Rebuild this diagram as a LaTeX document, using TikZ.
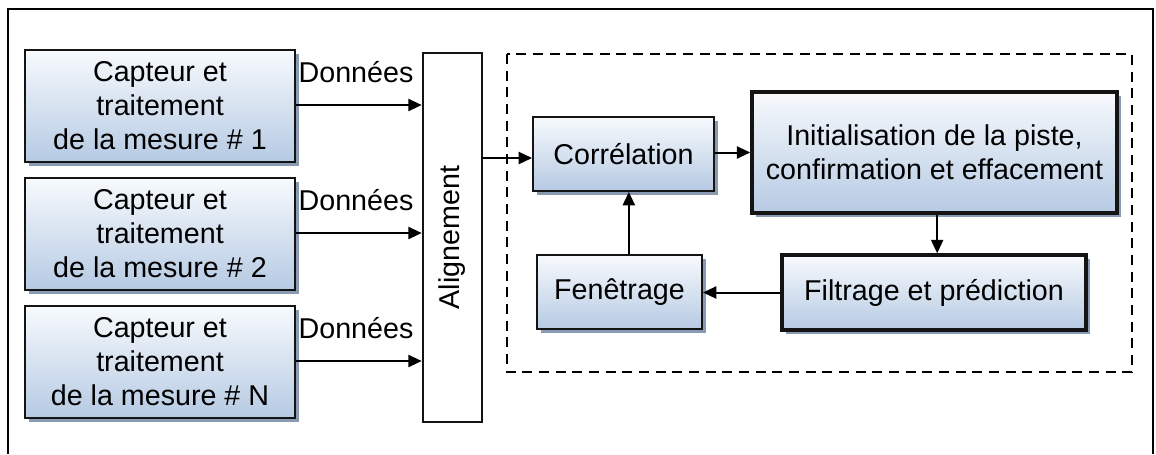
\documentclass[tikz,border=0pt]{standalone}
\usepackage{fontspec}
\setmainfont{Liberation Sans}
\usetikzlibrary{arrows.meta,shadows}
\definecolor{boxtop}{RGB}{247,250,253}
\definecolor{boxbot}{RGB}{182,202,227}
\definecolor{shadowc}{RGB}{138,154,178}
\definecolor{edge}{RGB}{20,20,20}
\tikzset{
  txt/.style={font=\fontsize{21.5pt}{25.5pt}\selectfont, align=center},
  blockbox/.style={txt, draw=edge, line width=1.4pt, top color=boxtop, bottom color=boxbot,
    inner sep=0pt, drop shadow={shadow xshift=3pt, shadow yshift=-3pt, fill=shadowc, opacity=1}},
  heavybox/.style={blockbox, line width=2.6pt},
  arr/.style={line width=1.5pt, -{Triangle[length=10pt,width=9pt]}},
}
\begin{document}
\begin{tikzpicture}[x=0.75pt, y=-0.75pt]
\useasboundingbox (0,0) rectangle (1156,454);
% outer frame, open at the bottom
\draw[line width=2pt] (8,454) -- (8,9) -- (1153,9) -- (1153,454);
% tracking loop group
\draw[line width=2pt, dash pattern=on 7.5pt off 5pt] (507,54) rectangle (1132,372);

% sensors
\node[blockbox, minimum width=202.5pt, minimum height=84pt] (s1) at (160,106)
  {Capteur et\\traitement\\de la mesure \# 1};
\node[blockbox, minimum width=202.5pt, minimum height=84pt] (s2) at (160,234)
  {Capteur et\\traitement\\de la mesure \# 2};
\node[blockbox, minimum width=202.5pt, minimum height=84pt] (s3) at (160,362)
  {Capteur et\\traitement\\de la mesure \# N};

% alignment
\node[txt, draw=edge, line width=1.9pt, fill=white, minimum width=44.25pt, minimum height=276.75pt,
  inner sep=0pt] (al) at (452.5,237.5) {};
\node[txt, rotate=90] (altxt) at (al.center) {Alignement};

% tracking blocks
\node[blockbox, minimum width=135.75pt, minimum height=55.5pt] (cor) at (623.5,154) {Corrélation};
\node[heavybox, minimum width=273.75pt, minimum height=90.75pt] (ini) at (934.5,152.5)
  {Initialisation de la piste,\\confirmation et effacement};
\node[heavybox, minimum width=228pt, minimum height=56.25pt] (fil) at (934,292.5) {Filtrage et prédiction};
\node[blockbox, minimum width=123.75pt, minimum height=55.5pt] (fen) at (619.5,292) {Fenêtrage};

% data labels
\node[txt, anchor=base] (d1) at (356,82) {Données};
\node[txt, anchor=base] (d2) at (356,210) {Données};
\node[txt, anchor=base] (d3) at (356,338) {Données};

% connectors
\draw[arr] ([yshift=0.75pt]s1.east) -- ([yshift=0.75pt]s1.east -| al.west);
\draw[arr] ([yshift=0.75pt]s2.east) -- ([yshift=0.75pt]s2.east -| al.west);
\draw[arr] ([yshift=0.75pt]s3.east) -- ([yshift=0.75pt]s3.east -| al.west);
\draw[arr] ([yshift=-3pt]cor.west -| al.east) -- ([yshift=-3pt]cor.west);
\draw[arr] (cor.east |- ini.west) -- (ini.west);
\draw[arr] ([xshift=2pt]ini.south) -- ([xshift=2pt]ini.south |- fil.north);
\draw[arr] (fil.west) -- (fil.west -| fen.east);
\draw[arr] ([xshift=4pt]cor.south |- fen.north) -- ([xshift=4pt]cor.south);
\end{tikzpicture}
\end{document}
